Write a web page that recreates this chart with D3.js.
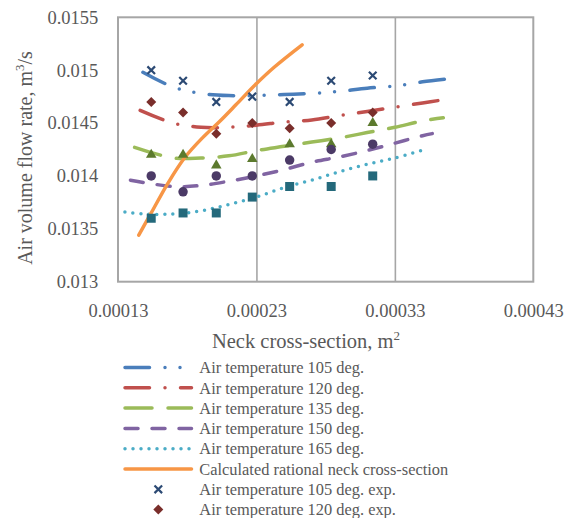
<!DOCTYPE html>
<html>
<head>
<meta charset="utf-8">
<script src="https://cdn.jsdelivr.net/npm/d3@7"></script>
<style>
body { margin: 0; background: #fff; }
text { font-family: "Liberation Serif", "Times New Roman", serif; fill: #595959; }
</style>
</head>
<body>
<script>
/* --------------------------------------------------------------------
Data: neck cross-section (m2) and air volume flow
rate (m3/s). Experimental points plus the fitted trend lines.
----------------------------------------------------------------------*/
var expX = [0.000154, 0.000177, 0.000201, 0.000227, 0.000254, 0.000284, 0.000314];
var exp105 = [0.0150, 0.0149, 0.0147, 0.01475, 0.0147, 0.0149, 0.01495];
var exp120 = [0.0147, 0.0146, 0.0144, 0.0145, 0.01445, 0.0145, 0.0146];
var exp135 = [0.0142, 0.0142, 0.0141, 0.01416, 0.0143, 0.0143, 0.0145];
var exp150 = [0.0140, 0.01385, 0.0140, 0.0140, 0.01415, 0.01425, 0.0143];
var exp165 = [0.0136, 0.01365, 0.01365, 0.0138, 0.0139, 0.0139, 0.0140];

var trend105X = [0.000148, 0.00017, 0.00019, 0.00021, 0.00023, 0.00025, 0.00027, 0.00029, 0.00031, 0.00033, 0.00035, 0.00037];
var trend105Y = [0.01498, 0.01484, 0.01478, 0.01476, 0.01476, 0.01477, 0.01478, 0.01480, 0.01483, 0.01485, 0.01489, 0.01492];
var trend120X = [0.000146, 0.00017, 0.00019, 0.00021, 0.00023, 0.00025, 0.00027, 0.00029, 0.00031, 0.00033, 0.00035, 0.000365];
var trend120Y = [0.01462, 0.01450, 0.01446, 0.01446, 0.01448, 0.01451, 0.01453, 0.01457, 0.01461, 0.01465, 0.01469, 0.01472];
var trend135X = [0.000142, 0.00017, 0.00019, 0.00021, 0.00023, 0.00025, 0.00027, 0.00029, 0.00031, 0.00033, 0.00035, 0.000365];
var trend135Y = [0.01427, 0.01417, 0.01417, 0.01419, 0.01424, 0.01428, 0.01432, 0.01436, 0.01441, 0.01446, 0.01452, 0.01455];
var trend150X = [0.000139, 0.00017, 0.00019, 0.00021, 0.00023, 0.00025, 0.00027, 0.00029, 0.00031, 0.00033, 0.00035, 0.000357];
var trend150Y = [0.01396, 0.01390, 0.01391, 0.01395, 0.01400, 0.01406, 0.01413, 0.01418, 0.01424, 0.01431, 0.01438, 0.01440];
var trend165X = [0.000135, 0.000148, 0.00017, 0.00019, 0.00021, 0.00023, 0.00025, 0.00027, 0.00029, 0.00031, 0.00033, 0.000352];
var trend165Y = [0.01366, 0.01364, 0.01364, 0.01367, 0.01373, 0.01380, 0.01389, 0.01396, 0.01404, 0.01411, 0.01417, 0.01425];

var rationalX = [0.000145, 0.000154, 0.000166, 0.000178, 0.000191, 0.000203, 0.000215, 0.000229, 0.000243, 0.000263];
var rationalY = [0.01344, 0.01365, 0.01393, 0.01417, 0.01436, 0.01451, 0.01467, 0.01486, 0.01503, 0.01524];

var xTicks = [0.00013, 0.00023, 0.00033, 0.00043];
var yTicks = [0.013, 0.0135, 0.014, 0.0145, 0.015, 0.0155];

var legendLabels = [
    "Air temperature 105 deg.",
    "Air temperature 120 deg.",
    "Air temperature 135 deg.",
    "Air temperature 150 deg.",
    "Air temperature 165 deg.",
    "Calculated rational neck cross-section",
    "Air temperature 105 deg. exp.",
    "Air temperature 120 deg. exp."
];

var serif = "'Liberation Serif', 'Times New Roman', serif";

/* --------------------------------------------------------------------
Margins and inner plot size.
----------------------------------------------------------------------*/
var margin = {top: 17.3, right: 34.7, bottom: 236.3, left: 118},
    width = 568 - margin.left - margin.right,
    height = 518 - margin.top - margin.bottom;

var root = d3.select("body")
    .append("svg")
    .attr("width", 568)
    .attr("height", 518);

root.append("rect")
    .attr("width", 568)
    .attr("height", 518)
    .attr("fill", "#fff");

var svg = root.append("g")
    .attr("transform", "translate(" + margin.left + "," + margin.top + ")");

var xScale = d3.scaleLinear().domain([0.00013, 0.00043]).range([0, width]);
var yScale = d3.scaleLinear().domain([0.013, 0.0155]).range([height, 0]);

/* --------------------------------------------------------------------
Series styles (Excel-like colours and dash patterns).
----------------------------------------------------------------------*/
var trends = [
    {x: trend105X, y: trend105Y, color: "#4a7ebb", dash: "24.5 15.5 0 15 0 15.5"},
    {x: trend120X, y: trend120Y, color: "#c0504d", dash: "24.5 15.5 0 15.5"},
    {x: trend135X, y: trend135Y, color: "#9bbb59", dash: "27 16"},
    {x: trend150X, y: trend150Y, color: "#8064a2", dash: "13 14"},
    {x: trend165X, y: trend165Y, color: "#4bacc6", dash: "0 8"},
    {x: rationalX, y: rationalY, color: "#f79646", dash: null}
];

var points = [
    {y: exp105, color: "#2c4a74", shape: "x"},
    {y: exp120, color: "#7a2e2b", shape: "diamond"},
    {y: exp135, color: "#5c7a2e", shape: "triangle"},
    {y: exp150, color: "#4b3a66", shape: "circle"},
    {y: exp165, color: "#24697b", shape: "square"}
];

function markerPath(shape) {
    if (shape == "x") return "M-3.8,-3.8L3.8,3.8M-3.8,3.8L3.8,-3.8";
    if (shape == "diamond") return d3.symbol(d3.symbolSquare, 50)();
    if (shape == "triangle") return d3.symbol(d3.symbolTriangle, 48)();
    if (shape == "circle") return d3.symbol(d3.symbolCircle, 70)();
    return d3.symbol(d3.symbolSquare, 81)();
}

function drawMarker(sel, p) {
    var m = sel.append("path")
        .attr("d", markerPath(p.shape));
    if (p.shape == "x") {
        m.attr("fill", "none").attr("stroke", p.color).attr("stroke-width", 2.2);
    } else {
        m.attr("fill", p.color);
    }
    if (p.shape == "diamond") m.attr("transform", "rotate(45)");
    return m;
}

/* --------------------------------------------------------------------
Gridlines, plot frame and axes.
----------------------------------------------------------------------*/
svg.append("g")
    .attr("class", "grid")
    .attr("transform", "translate(0," + height + ")")
    .call(d3.axisBottom(xScale).tickValues(xTicks.slice(1, 3)).tickSize(-height).tickFormat(""))
    .call(function(g) { g.select(".domain").remove(); })
    .selectAll("line")
    .attr("stroke", "#a6a6a6")
    .attr("stroke-width", 1.6);

svg.append("rect")
    .attr("width", width)
    .attr("height", height)
    .attr("fill", "none")
    .attr("stroke", "#a6a6a6")
    .attr("stroke-width", 2);

var xAxis = svg.append("g")
    .attr("transform", "translate(0," + height + ")")
    .call(d3.axisBottom(xScale).tickValues(xTicks).tickSize(0).tickPadding(22)
        .tickFormat(function(d) { return d.toString(); }))
    .attr("font-family", serif)
    .attr("font-size", 18.5);
xAxis.select(".domain").remove();
xAxis.selectAll("text")
    .attr("fill", "#595959")
    .style("font-family", serif)
    .style("font-size", "18.5px");

var yAxis = svg.append("g")
    .call(d3.axisLeft(yScale).tickValues(yTicks).tickSize(0).tickPadding(19.7)
        .tickFormat(function(d) { return d.toString(); }))
    .attr("font-family", serif)
    .attr("font-size", 18.5);
yAxis.select(".domain").remove();
yAxis.selectAll("text")
    .attr("fill", "#595959")
    .style("font-family", serif)
    .style("font-size", "18.5px");

/* --------------------------------------------------------------------
Axis titles with superscripts.
----------------------------------------------------------------------*/
var xTitle = root.append("text")
    .attr("x", 306)
    .attr("y", 348)
    .attr("text-anchor", "middle")
    .style("font-size", "20.5px");
xTitle.append("tspan").text("Neck cross-section, m");
xTitle.append("tspan").attr("dy", -8).style("font-size", "13px").text("2");

var yTitle = root.append("text")
    .attr("transform", "translate(32,158) rotate(-90)")
    .attr("text-anchor", "middle")
    .style("font-size", "20px");
yTitle.append("tspan").text("Air volume flow rate, m");
yTitle.append("tspan").attr("dy", -8).style("font-size", "13px").text("3");
yTitle.append("tspan").attr("dy", 8).text("/s");

/* --------------------------------------------------------------------
Trend lines and calculated curve.
----------------------------------------------------------------------*/
var line = d3.line()
    .curve(d3.curveCatmullRom)
    .x(function(d) { return xScale(d[0]); })
    .y(function(d) { return yScale(d[1]); });

svg.selectAll(".trend")
    .data(trends)
    .enter()
    .append("path")
    .attr("class", "trend")
    .attr("d", function(d) { return line(d3.zip(d.x, d.y)); })
    .attr("fill", "none")
    .attr("stroke", function(d) { return d.color; })
    .attr("stroke-width", 3.5)
    .attr("stroke-linecap", "round")
    .attr("stroke-dasharray", function(d) { return d.dash; });

/* --------------------------------------------------------------------
Experimental points.
----------------------------------------------------------------------*/
points.forEach(function(p) {
    p.y.forEach(function(v, i) {
        var g = svg.append("g")
            .attr("transform", "translate(" + xScale(expX[i]) + "," + yScale(v) + ")");
        drawMarker(g, p);
    });
});

/* --------------------------------------------------------------------
Legend (only the rows that fit in the picture).
----------------------------------------------------------------------*/
var legend = root.append("g");
legendLabels.forEach(function(label, i) {
    var y = 367.5 + i * 20.3;
    if (i < trends.length) {
        legend.append("line")
            .attr("x1", 125).attr("x2", 191.5)
            .attr("y1", y).attr("y2", y)
            .attr("stroke", trends[i].color)
            .attr("stroke-width", 3.5)
            .attr("stroke-linecap", "round")
            .attr("stroke-dasharray", trends[i].dash);
    } else {
        var g = legend.append("g").attr("transform", "translate(158.3," + y + ")");
        drawMarker(g, points[i - trends.length]);
    }
    legend.append("text")
        .attr("x", 199.3)
        .attr("y", y)
        .attr("dy", "0.35em")
        .style("font-size", "16.4px")
        .text(label);
});
</script>
</body>
</html>
